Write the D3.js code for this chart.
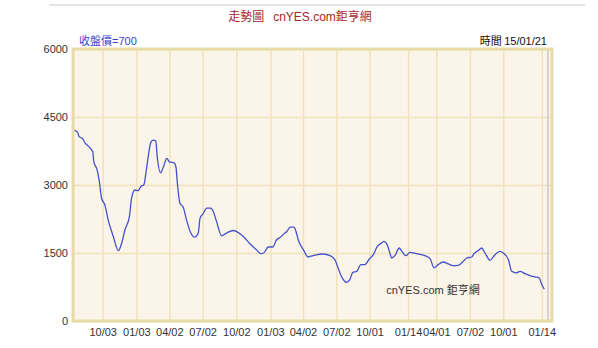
<!DOCTYPE html>
<html>
<head>
<meta charset="utf-8">
<script src="https://cdn.jsdelivr.net/npm/d3@7"></script>
<style>
  body { margin: 0; background: #fff; }
  text { font-family: "Liberation Sans", Arial, "Noto Sans CJK TC", sans-serif; }
</style>
</head>
<body>
<script>
const w = 598;
const h = 348;
const margin = {left: 73, right: 46, top: 49, bottom: 27};

// closing prices
const dates = ["2011-07-15","2011-07-26","2011-07-31","2011-08-09","2011-08-16","2011-08-27","2011-09-06","2011-09-09","2011-09-18","2011-09-24",
  "2011-09-30","2011-10-09","2011-10-18","2011-11-01","2011-11-15","2011-11-24","2011-12-03","2011-12-15","2011-12-21","2011-12-30",
  "2012-01-08","2012-01-15","2012-01-24","2012-01-29","2012-02-05","2012-02-11","2012-02-18","2012-02-25","2012-02-29","2012-03-09",
  "2012-03-17","2012-03-26","2012-04-02","2012-04-15","2012-04-20","2012-04-24","2012-05-01","2012-05-10","2012-05-19","2012-05-30",
  "2012-06-06","2012-06-11","2012-06-20","2012-06-25","2012-07-03","2012-07-13","2012-07-24","2012-07-31","2012-08-09","2012-08-23",
  "2012-09-05","2012-09-24","2012-10-12","2012-10-21","2012-11-08","2012-11-26","2012-12-08","2012-12-16","2012-12-28","2013-01-09",
  "2013-01-20","2013-01-31","2013-02-09","2013-02-17","2013-02-26","2013-03-08","2013-03-14","2013-03-20","2013-04-03","2013-04-16",
  "2013-04-21","2013-05-05","2013-05-27","2013-06-15","2013-06-28","2013-07-07","2013-07-18","2013-07-30","2013-08-08","2013-08-16",
  "2013-08-27","2013-09-07","2013-09-18","2013-09-30","2013-10-11","2013-10-22","2013-11-03","2013-11-09","2013-11-18","2013-11-24",
  "2013-11-30","2013-12-09","2013-12-21","2013-12-28","2014-01-08","2014-01-19","2014-02-06","2014-03-01","2014-03-15","2014-03-26",
  "2014-04-06","2014-04-20","2014-05-04","2014-05-17","2014-05-31","2014-06-14","2014-06-23","2014-07-07","2014-07-13","2014-07-25",
  "2014-08-03","2014-08-12","2014-08-26","2014-09-06","2014-09-22","2014-10-01","2014-10-15","2014-10-24","2014-11-05","2014-11-16",
  "2014-11-29","2014-12-13","2014-12-27","2015-01-07","2015-01-14","2015-01-21"];
const closes = [4208,4171,4061,4026,3929,3841,3732,3512,3330,3073,
  2708,2561,2231,1865,1551,1720,2012,2304,2708,2890,
  2875,2963,3016,3257,3659,3929,3989,3973,3622,3271,
  3403,3587,3512,3490,3403,3038,2598,2510,2231,1950,
  1865,1851,1939,2269,2363,2488,2488,2414,2194,1880,
  1939,1996,1924,1865,1704,1573,1485,1500,1632,1632,
  1792,1851,1924,1975,2071,2071,1975,1792,1573,1412,
  1426,1455,1478,1441,1353,1171,951,854,914,1074,
  1096,1243,1243,1368,1463,1645,1720,1755,1682,1535,
  1390,1441,1610,1535,1441,1513,1485,1441,1375,1171,
  1243,1302,1258,1221,1228,1316,1390,1412,1485,1557,
  1610,1500,1338,1441,1535,1500,1353,1096,1061,1096,
  1045,1002,973,951,804,700];

const xTickDates = ["2011-10-03","2012-01-03","2012-04-02","2012-07-02","2012-10-02","2013-01-03","2013-04-02",
  "2013-07-02","2013-10-01","2014-01-14","2014-04-01","2014-07-02","2014-10-01","2015-01-14"];
const xTickLabels = ["10/03","01/03","04/02","07/02","10/02","01/03","04/02","07/02","10/01","01/14","04/01","07/02","10/01","01/14"];
const yTicks = [0, 1500, 3000, 4500, 6000];
const xDomain = ["2011-07-14", "2015-02-11"];
const markerDate = "2015-01-31";

const parse = d3.timeParse("%Y-%m-%d");
const series = dates.map((d, i) => ({date: parse(d), value: closes[i]}));

const svg = d3.select("body").append("svg").attr("width", w).attr("height", h);

const xScale = d3.scaleTime()
    .domain(xDomain.map(parse))
    .range([margin.left, w - margin.right]);

const yScale = d3.scaleLinear()
    .domain([0, 6000])
    .range([h - margin.bottom, margin.top]);

// top grey rule
svg.append("line")
    .attr("x1", 49).attr("x2", 585)
    .attr("y1", 5).attr("y2", 5)
    .attr("stroke", "#dcdcdc").attr("stroke-width", 1.5);

// title
const title = svg.append("text")
    .attr("x", 300).attr("y", 21)
    .attr("text-anchor", "middle")
    .style("font-size", "12px")
    .attr("fill", "#a8262a");
title.append("tspan").style("font-family", "'Noto Sans CJK TC'").text("走勢圖");
title.append("tspan").attr("dx", 9).text("cnYES.com");
title.append("tspan").style("font-family", "'Noto Sans CJK TC'").text("鉅亨網");

// plot background
svg.append("rect")
    .attr("x", margin.left).attr("y", margin.top)
    .attr("width", w - margin.left - margin.right)
    .attr("height", h - margin.top - margin.bottom)
    .attr("fill", "#fbf4e9");

// grid lines via axes
const xGrid = d3.axisBottom(xScale)
    .tickValues(xTickDates.map(parse))
    .tickSize(-(h - margin.top - margin.bottom))
    .tickFormat((d, i) => xTickLabels[i]);

const gx = svg.append("g")
    .attr("transform", "translate(0," + (h - margin.bottom) + ")")
    .call(xGrid);
gx.select(".domain").remove();
gx.selectAll("line").attr("stroke", "#efe3bd").attr("stroke-width", 1.5);
gx.selectAll("text")
    .attr("y", 7)
    .attr("fill", "#333")
    .style("font-size", "11px");

const yGrid = d3.axisLeft(yScale)
    .tickValues(yTicks)
    .tickSize(-(w - margin.left - margin.right))
    .tickFormat(d3.format("d"))
    .tickPadding(5);

const gy = svg.append("g")
    .attr("transform", "translate(" + margin.left + ",0)")
    .call(yGrid);
gy.select(".domain").remove();
gy.selectAll("line").attr("stroke", "#efe3bd").attr("stroke-width", 1.5);
gy.selectAll("text")
    .attr("fill", "#333")
    .style("font-size", "11px");

// grey marker near the right edge
svg.append("line")
    .attr("x1", xScale(parse(markerDate))).attr("x2", xScale(parse(markerDate)))
    .attr("y1", margin.top).attr("y2", h - margin.bottom)
    .attr("stroke", "#d6d2cc").attr("stroke-width", 2);

// watermark
const wm = svg.append("text")
    .attr("x", 433).attr("y", 294)
    .attr("text-anchor", "middle")
    .attr("fill", "#333")
    .style("font-size", "11px");
wm.append("tspan").text("cnYES.com ");
wm.append("tspan").style("font-family", "'Noto Sans CJK TC'").text("鉅亨網");

// price line
const line = d3.line()
    .x(d => xScale(d.date))
    .y(d => yScale(d.value))
    .curve(d3.curveMonotoneX);

svg.append("path")
    .datum(series)
    .attr("fill", "none")
    .attr("stroke", "#4352cc")
    .attr("stroke-width", 1.3)
    .attr("d", line);

// frame
svg.append("rect")
    .attr("x", margin.left).attr("y", margin.top)
    .attr("width", w - margin.left - margin.right)
    .attr("height", h - margin.top - margin.bottom)
    .attr("fill", "none")
    .attr("stroke", "#e8dba8")
    .attr("stroke-width", 3);

// labels above the plot
const lbl = svg.append("text")
    .attr("x", 79).attr("y", 45)
    .attr("fill", "#3a3fcf")
    .style("font-size", "11px");
lbl.append("tspan").style("font-family", "'Noto Sans CJK TC'").text("收盤價");
lbl.append("tspan").text("=" + closes[closes.length - 1]);

const tm = svg.append("text")
    .attr("x", 547).attr("y", 45)
    .attr("text-anchor", "end")
    .attr("fill", "#111")
    .style("font-size", "11px");
tm.append("tspan").style("font-family", "'Noto Sans CJK TC'").text("時間 ");
tm.append("tspan").text("15/01/21");
</script>
</body>
</html>
